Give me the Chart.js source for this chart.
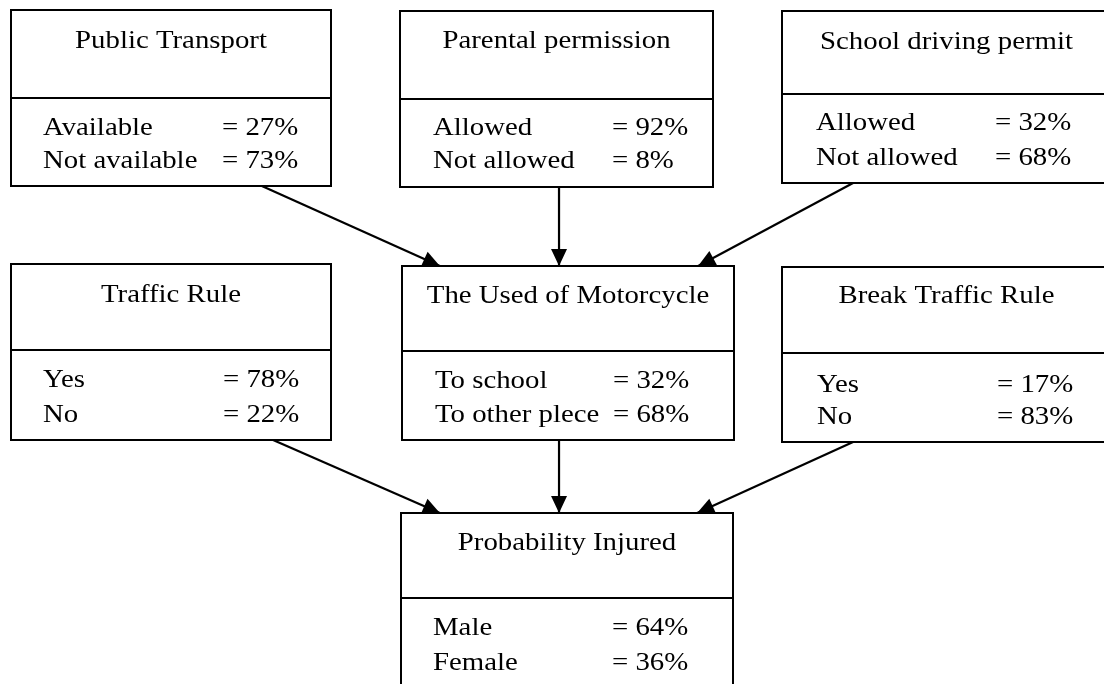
<!DOCTYPE html>
<html>
<head>
<meta charset="utf-8">
<script src="https://cdn.jsdelivr.net/npm/chart.js@4"></script>
<style>
  html, body { margin: 0; padding: 0; background: #fff; }
  #wrap { width: 1104px; height: 684px; position: relative; }
</style>
</head>
<body>
<div id="wrap"><canvas id="net"></canvas></div>
<script>
// Network nodes and their probabilities
const nodeNames = ['Public Transport', 'Parental permission', 'School driving permit',
  'Traffic Rule', 'The Used of Motorcycle', 'Break Traffic Rule', 'Probability Injured'];
const stateNames = [
  ['Available', 'Not available'],
  ['Allowed', 'Not allowed'],
  ['Allowed', 'Not allowed'],
  ['Yes', 'No'],
  ['To school', 'To other plece'],
  ['Yes', 'No'],
  ['Male', 'Female']
];
const stateValues = [[27, 73], [92, 8], [32, 68], [78, 22], [32, 68], [17, 83], [64, 36]];
// arrows: parent -> child
const edgeFrom = [0, 1, 2, 3, 4, 5];
const edgeTo = [4, 4, 4, 6, 6, 6];

// Layout (chart units = pixels of the 1104x684 picture)
const boxes = [
  { x0: 11, y0: 10, x1: 331, y1: 186, div: 98, title: 48, rows: [135, 168], lab: 43, eq: 222 },
  { x0: 400, y0: 11, x1: 713, y1: 187, div: 99, title: 48, rows: [135, 168], lab: 433, eq: 612 },
  { x0: 782, y0: 11, x1: 1111, y1: 183, div: 94, title: 49, rows: [130, 165], lab: 816, eq: 995 },
  { x0: 11, y0: 264, x1: 331, y1: 440, div: 350, title: 302, rows: [387, 422], lab: 43, eq: 223 },
  { x0: 402, y0: 266, x1: 734, y1: 440, div: 351, title: 303, rows: [388, 422], lab: 435, eq: 613 },
  { x0: 782, y0: 267, x1: 1111, y1: 442, div: 353, title: 303, rows: [392, 424], lab: 817, eq: 997 },
  { x0: 401, y0: 513, x1: 733, y1: 700, div: 598, title: 550, rows: [635, 670], lab: 433, eq: 612 }
];
// where each arrow leaves the parent / enters the child, as fraction of box width
const srcFrac = [0.784, 0.508, 0.216, 0.819, 0.473, 0.216];
const tgtFrac = [0.114, 0.473, 0.892, 0.117, 0.476, 0.892];

const FONT = '25.5px "Liberation Serif", "Times New Roman", serif';
const STRETCH = 1.13;

function drawText(ctx, text, x, y, align) {
  ctx.save();
  ctx.translate(x, y);
  ctx.scale(STRETCH, 1);
  ctx.textAlign = align;
  ctx.textBaseline = 'alphabetic';
  ctx.fillText(text, 0, 0);
  ctx.restore();
}

const edgeSets = edgeFrom.map((f, i) => {
  const s = boxes[f], t = boxes[edgeTo[i]];
  return {
    data: [
      { x: s.x0 + (s.x1 - s.x0) * srcFrac[i], y: s.y1 },
      { x: t.x0 + (t.x1 - t.x0) * tgtFrac[i], y: t.y0 }
    ],
    showLine: true,
    borderColor: '#000',
    borderWidth: 2.2,
    pointRadius: 0
  };
});

const boxPlugin = {
  id: 'boxes',
  beforeDatasetsDraw(chart) {
    const ctx = chart.ctx;
    ctx.save();
    ctx.fillStyle = '#fff';
    ctx.fillRect(0, 0, chart.width, chart.height);
    ctx.restore();
  },
  afterDatasetsDraw(chart) {
    const ctx = chart.ctx;
    const xs = chart.scales.x, ys = chart.scales.y;
    ctx.save();
    // arrowheads
    chart.data.datasets.forEach((ds, i) => {
      const pts = chart.getDatasetMeta(i).data;
      const a = pts[0], b = pts[1];
      const ang = Math.atan2(b.y - a.y, b.x - a.x);
      const len = 17, half = 8;
      ctx.beginPath();
      ctx.moveTo(b.x, b.y);
      ctx.lineTo(b.x - len * Math.cos(ang) + half * Math.sin(ang), b.y - len * Math.sin(ang) - half * Math.cos(ang));
      ctx.lineTo(b.x - len * Math.cos(ang) - half * Math.sin(ang), b.y - len * Math.sin(ang) + half * Math.cos(ang));
      ctx.closePath();
      ctx.fillStyle = '#000';
      ctx.fill();
    });
    // node boxes
    ctx.strokeStyle = '#000';
    ctx.lineWidth = 2;
    ctx.fillStyle = '#000';
    ctx.font = FONT;
    boxes.forEach((b, i) => {
      const x0 = xs.getPixelForValue(b.x0), x1 = xs.getPixelForValue(b.x1);
      const y0 = ys.getPixelForValue(b.y0), y1 = ys.getPixelForValue(b.y1);
      const yd = ys.getPixelForValue(b.div);
      ctx.strokeRect(x0, y0, x1 - x0, y1 - y0);
      ctx.beginPath();
      ctx.moveTo(x0, yd);
      ctx.lineTo(x1, yd);
      ctx.stroke();
      drawText(ctx, nodeNames[i], (x0 + x1) / 2, ys.getPixelForValue(b.title), 'center');
      stateNames[i].forEach((s, j) => {
        const yy = ys.getPixelForValue(b.rows[j]);
        drawText(ctx, s, xs.getPixelForValue(b.lab), yy, 'left');
        drawText(ctx, '= ' + stateValues[i][j] + '%', xs.getPixelForValue(b.eq), yy, 'left');
      });
    });
    ctx.restore();
  }
};

new Chart(document.getElementById('net'), {
  type: 'scatter',
  data: { datasets: edgeSets },
  options: {
    responsive: true,
    maintainAspectRatio: false,
    animation: false,
    layout: { padding: 0 },
    plugins: { legend: { display: false }, tooltip: { enabled: false } },
    scales: {
      x: { type: 'linear', min: 0, max: 1104, display: false },
      y: { type: 'linear', min: 0, max: 684, reverse: true, display: false }
    }
  },
  plugins: [boxPlugin]
});
</script>
</body>
</html>
